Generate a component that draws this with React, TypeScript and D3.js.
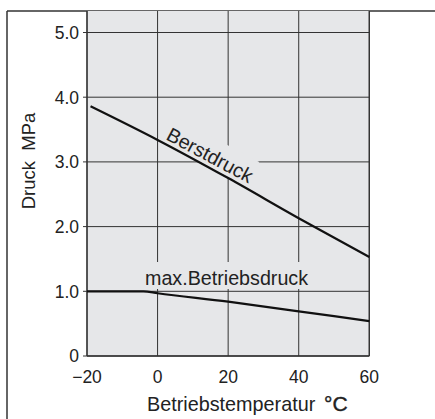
import React from "react";
import * as d3 from "d3";

const xTicks = [-20, 0, 20, 40, 60];
const xTickLabels = ["\u221220", "0", "20", "40", "60"];
const yTicks = [0, 1, 2, 3, 4, 5];
const yTickLabels = ["0", "1.0", "2.0", "3.0", "4.0", "5.0"];

const berstTemp = [-19, 0, 20, 40, 60];
const berstPressure = [3.86, 3.34, 2.75, 2.13, 1.53];

const maxTemp = [-20, -4, 0, 20, 40, 60];
const maxPressure = [1.0, 1.0, 0.97, 0.84, 0.69, 0.54];

const W = 435;
const H = 419;
const FONT = "'Liberation Sans', Arial, Helvetica, sans-serif";
const GRAY = "#e6e7e9";
const INK = "#222";

export default function App() {
  const x = d3.scaleLinear().domain([-20, 60]).range([87, 369.3]);
  const y = d3.scaleLinear().domain([0, 5]).range([356, 32.5]);
  const plotTop = 11;

  const line = d3
    .line<[number, number]>()
    .x((d) => x(d[0]))
    .y((d) => y(d[1]))
    .curve(d3.curveMonotoneX);

  const berst = berstTemp.map((t, i) => [t, berstPressure[i]] as [number, number]);
  const maxB = maxTemp.map((t, i) => [t, maxPressure[i]] as [number, number]);

  const left = x(-20);
  const right = x(60);
  const bottom = y(0);

  const berstOrigin = [165, 139];
  const berstAngle = 28;

  return (
    <svg
      width={W}
      height={H}
      style={{ position: "absolute", left: 0, top: 0, background: "#fff" }}
      fontFamily={FONT}
    >
      {/* outer frame */}
      <line x1={7} y1={11} x2={W} y2={11} stroke="#333" strokeWidth={1.5} />
      <line x1={7} y1={11} x2={7} y2={H} stroke="#333" strokeWidth={1.5} />

      {/* plot background */}
      <rect x={left} y={plotTop} width={right - left} height={bottom - plotTop} fill={GRAY} />

      {/* grid */}
      {yTicks.map((t) => (
        <line key={"gy" + t} x1={83} x2={right} y1={y(t)} y2={y(t)} stroke="#333" strokeWidth={1} />
      ))}
      {xTicks.map((t) => (
        <line key={"gx" + t} x1={x(t)} x2={x(t)} y1={plotTop} y2={bottom} stroke="#333" strokeWidth={1} />
      ))}
      <line x1={left} x2={left} y1={plotTop} y2={bottom} stroke="#333" strokeWidth={1.3} />
      <line x1={right} x2={right} y1={plotTop} y2={bottom} stroke="#333" strokeWidth={1.3} />
      <line x1={left} x2={right} y1={bottom} y2={bottom} stroke="#333" strokeWidth={1.3} />

      {/* label knockouts */}
      <g transform={`translate(${berstOrigin[0]},${berstOrigin[1]}) rotate(${berstAngle})`}>
        <rect x={-6} y={-24} width={100} height={28} fill={GRAY} />
      </g>
      <rect x={143} y={262} width={168} height={27} fill={GRAY} />

      {/* curve labels */}
      <text
        transform={`translate(${berstOrigin[0]},${berstOrigin[1]}) rotate(${berstAngle})`}
        fontSize={19.8}
        fill={INK}
      >
        Berstdruck
      </text>
      <text x={145} y={285} fontSize={19.7} fill={INK}>
        max.Betriebsdruck
      </text>

      {/* data lines */}
      <path d={line(berst) || ""} fill="none" stroke="#111" strokeWidth={2.2} />
      <path d={line(maxB) || ""} fill="none" stroke="#111" strokeWidth={2.2} />

      {/* y tick labels */}
      {yTicks.map((t, i) => (
        <text
          key={"ly" + t}
          x={79}
          y={y(t)}
          dy="0.36em"
          textAnchor="end"
          fontSize={17.5}
          fill={INK}
        >
          {yTickLabels[i]}
        </text>
      ))}
      {/* x tick labels */}
      {xTicks.map((t, i) => (
        <text key={"lx" + t} x={x(t)} y={383} textAnchor="middle" fontSize={17.5} fill={INK}>
          {xTickLabels[i]}
        </text>
      ))}

      {/* axis titles */}
      <text x={147} y={411} fontSize={19.8} fill={INK}>
        Betriebstemperatur
      </text>
      <text x={324} y={411} fontSize={21} fill={INK} stroke={INK} strokeWidth={0.4}>
        °C
      </text>
      <text
        transform="translate(35,161) rotate(-90)"
        textAnchor="middle"
        fontSize={18.5}
        fill={INK}
        style={{ whiteSpace: "pre" }}
      >
        {"Druck  MPa"}
      </text>
    </svg>
  );
}
